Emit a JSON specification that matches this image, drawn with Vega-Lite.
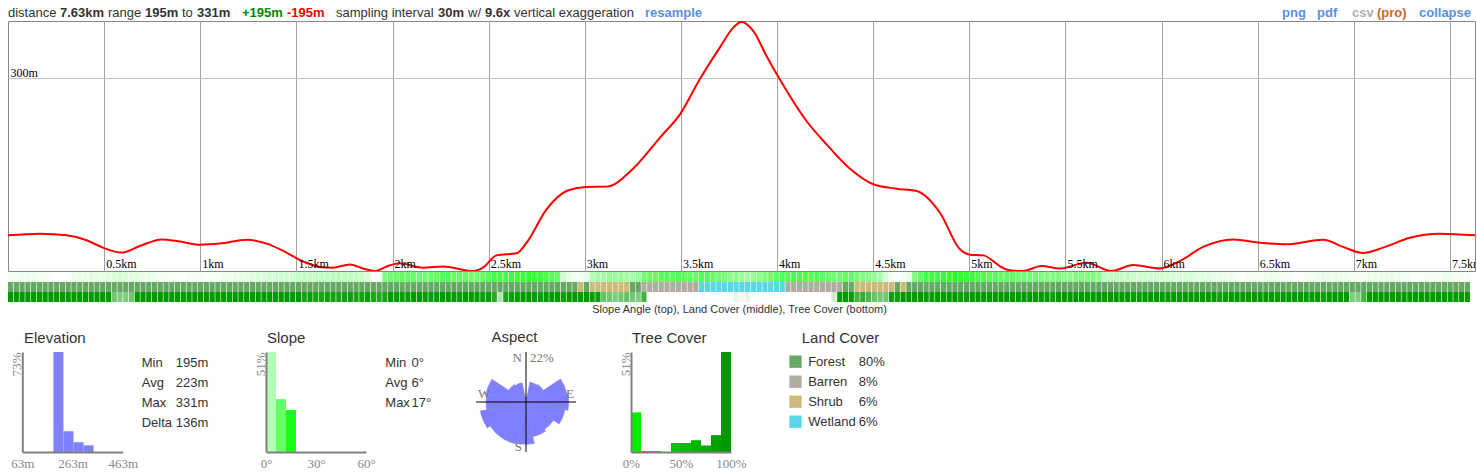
{
"$schema":"https://vega.github.io/schema/vega-lite/v6.json",
"background":"white",
"padding":{"left":7,"top":0,"right":0,"bottom":0},
"spacing":16,
"config":{
 "font":"Liberation Sans",
 "view":{"stroke":null},
 "title":{"anchor":"start","fontSize":15,"fontWeight":"normal","color":"#333333","offset":6,"baseline":"alphabetic","frame":"group","font":"Liberation Sans"},
 "style":{
  "hn":{"align":"left","baseline":"alphabetic","dy":7,"fontSize":13,"color":"#333333"},
  "hb":{"align":"left","baseline":"alphabetic","dy":7,"fontSize":13,"fontWeight":"bold","color":"#333333"},
  "st":{"align":"left","baseline":"middle","fontSize":13,"color":"#333333"}
 }
},
"vconcat":[
 {"spacing":0,"vconcat":[
  {"spacing":0,"bounds":"flush","hconcat":[
   {"width":52,"height":20,"data":{"values":[{"t":"distance"}]},"mark":{"type":"text","style":"hn"},"encoding":{"x":{"field":"t","type":"nominal","bandPosition":0,"axis":null,"scale":{"type":"band","paddingInner":0,"paddingOuter":0}},"text":{"field":"t"}}},
   {"width":47.7,"height":20,"data":{"values":[{"t":"7.63km"}]},"mark":{"type":"text","style":"hb"},"encoding":{"x":{"field":"t","type":"nominal","bandPosition":0,"axis":null,"scale":{"type":"band","paddingInner":0,"paddingOuter":0}},"text":{"field":"t"}}},
   {"width":36.9,"height":20,"data":{"values":[{"t":"range"}]},"mark":{"type":"text","style":"hn"},"encoding":{"x":{"field":"t","type":"nominal","bandPosition":0,"axis":null,"scale":{"type":"band","paddingInner":0,"paddingOuter":0}},"text":{"field":"t"}}},
   {"width":36.9,"height":20,"data":{"values":[{"t":"195m"}]},"mark":{"type":"text","style":"hb"},"encoding":{"x":{"field":"t","type":"nominal","bandPosition":0,"axis":null,"scale":{"type":"band","paddingInner":0,"paddingOuter":0}},"text":{"field":"t"}}},
   {"width":14.4,"height":20,"data":{"values":[{"t":"to"}]},"mark":{"type":"text","style":"hn"},"encoding":{"x":{"field":"t","type":"nominal","bandPosition":0,"axis":null,"scale":{"type":"band","paddingInner":0,"paddingOuter":0}},"text":{"field":"t"}}},
   {"width":44.1,"height":20,"data":{"values":[{"t":"331m"}]},"mark":{"type":"text","style":"hb"},"encoding":{"x":{"field":"t","type":"nominal","bandPosition":0,"axis":null,"scale":{"type":"band","paddingInner":0,"paddingOuter":0}},"text":{"field":"t"}}},
   {"width":44.5,"height":20,"data":{"values":[{"t":"+195m"}]},"mark":{"type":"text","style":"hb","color":"#008800"},"encoding":{"x":{"field":"t","type":"nominal","bandPosition":0,"axis":null,"scale":{"type":"band","paddingInner":0,"paddingOuter":0}},"text":{"field":"t"}}},
   {"width":48.4,"height":20,"data":{"values":[{"t":"-195m"}]},"mark":{"type":"text","style":"hb","color":"#ff0000"},"encoding":{"x":{"field":"t","type":"nominal","bandPosition":0,"axis":null,"scale":{"type":"band","paddingInner":0,"paddingOuter":0}},"text":{"field":"t"}}},
   {"width":101.2,"height":20,"data":{"values":[{"t":"sampling interval"}]},"mark":{"type":"text","style":"hn"},"encoding":{"x":{"field":"t","type":"nominal","bandPosition":0,"axis":null,"scale":{"type":"band","paddingInner":0,"paddingOuter":0}},"text":{"field":"t"}}},
   {"width":29.6,"height":20,"data":{"values":[{"t":"30m"}]},"mark":{"type":"text","style":"hb"},"encoding":{"x":{"field":"t","type":"nominal","bandPosition":0,"axis":null,"scale":{"type":"band","paddingInner":0,"paddingOuter":0}},"text":{"field":"t"}}},
   {"width":16.6,"height":20,"data":{"values":[{"t":"w/"}]},"mark":{"type":"text","style":"hn"},"encoding":{"x":{"field":"t","type":"nominal","bandPosition":0,"axis":null,"scale":{"type":"band","paddingInner":0,"paddingOuter":0}},"text":{"field":"t"}}},
   {"width":28.9,"height":20,"data":{"values":[{"t":"9.6x"}]},"mark":{"type":"text","style":"hb"},"encoding":{"x":{"field":"t","type":"nominal","bandPosition":0,"axis":null,"scale":{"type":"band","paddingInner":0,"paddingOuter":0}},"text":{"field":"t"}}},
   {"width":130.8,"height":20,"data":{"values":[{"t":"vertical exaggeration"}]},"mark":{"type":"text","style":"hn"},"encoding":{"x":{"field":"t","type":"nominal","bandPosition":0,"axis":null,"scale":{"type":"band","paddingInner":0,"paddingOuter":0}},"text":{"field":"t"}}},
   {"width":637,"height":20,"data":{"values":[{"t":"resample"}]},"mark":{"type":"text","style":"hb","color":"#5b8fe3"},"encoding":{"x":{"field":"t","type":"nominal","bandPosition":0,"axis":null,"scale":{"type":"band","paddingInner":0,"paddingOuter":0}},"text":{"field":"t"}}},
   {"width":35,"height":20,"data":{"values":[{"t":"png"}]},"mark":{"type":"text","style":"hb","color":"#5b8fe3"},"encoding":{"x":{"field":"t","type":"nominal","bandPosition":0,"axis":null,"scale":{"type":"band","paddingInner":0,"paddingOuter":0}},"text":{"field":"t"}}},
   {"width":35,"height":20,"data":{"values":[{"t":"pdf"}]},"mark":{"type":"text","style":"hb","color":"#5b8fe3"},"encoding":{"x":{"field":"t","type":"nominal","bandPosition":0,"axis":null,"scale":{"type":"band","paddingInner":0,"paddingOuter":0}},"text":{"field":"t"}}},
   {"width":25,"height":20,"data":{"values":[{"t":"csv"}]},"mark":{"type":"text","style":"hb","color":"#b0b0b0"},"encoding":{"x":{"field":"t","type":"nominal","bandPosition":0,"axis":null,"scale":{"type":"band","paddingInner":0,"paddingOuter":0}},"text":{"field":"t"}}},
   {"width":42,"height":20,"data":{"values":[{"t":"(pro)"}]},"mark":{"type":"text","style":"hb","color":"#d2642a"},"encoding":{"x":{"field":"t","type":"nominal","bandPosition":0,"axis":null,"scale":{"type":"band","paddingInner":0,"paddingOuter":0}},"text":{"field":"t"}}},
   {"width":55,"height":20,"data":{"values":[{"t":"collapse"}]},"mark":{"type":"text","style":"hb","color":"#5b8fe3"},"encoding":{"x":{"field":"t","type":"nominal","bandPosition":0,"axis":null,"scale":{"type":"band","paddingInner":0,"paddingOuter":0}},"text":{"field":"t"}}}
  ]},
  {"width":1467,"height":250,
   "view":{"stroke":"#888888","strokeWidth":1},
   "layer":[
    {"data":{"values":[{"d":0,"e":214.4},{"d":0.166,"e":215.3},{"d":0.305,"e":214.4},{"d":0.409,"e":211.7},{"d":0.494,"e":207.7},{"d":0.591,"e":205},{"d":0.686,"e":208.6},{"d":0.799,"e":212.2},{"d":0.894,"e":211},{"d":0.998,"e":209.3},{"d":1.102,"e":209.9},{"d":1.241,"e":212},{"d":1.345,"e":209.9},{"d":1.432,"e":205.9},{"d":1.518,"e":201},{"d":1.622,"e":197.2},{"d":1.69,"e":196.8},{"d":1.778,"e":198.6},{"d":1.846,"e":196.4},{"d":1.908,"e":195},{"d":1.986,"e":198.1},{"d":2.038,"e":199.2},{"d":2.158,"e":196.8},{"d":2.262,"e":197.5},{"d":2.418,"e":195},{"d":2.47,"e":196.8},{"d":2.541,"e":203.5},{"d":2.645,"e":204.6},{"d":2.697,"e":210.4},{"d":2.801,"e":228.5},{"d":2.905,"e":238.5},{"d":3.009,"e":240.7},{"d":3.113,"e":240.9},{"d":3.252,"e":250.7},{"d":3.391,"e":267.6},{"d":3.495,"e":280.2},{"d":3.598,"e":299.3},{"d":3.702,"e":316.5},{"d":3.772,"e":327.4},{"d":3.815,"e":330.5},{"d":3.876,"e":325.6},{"d":3.945,"e":312},{"d":4.014,"e":299.3},{"d":4.153,"e":276.6},{"d":4.257,"e":263.9},{"d":4.378,"e":250.7},{"d":4.5,"e":242.2},{"d":4.621,"e":239.8},{"d":4.725,"e":238.5},{"d":4.847,"e":226.7},{"d":4.951,"e":206.8},{"d":5.003,"e":203.9},{"d":5.072,"e":203.5},{"d":5.124,"e":200.4},{"d":5.16,"e":197.5},{"d":5.21,"e":195.4},{"d":5.28,"e":195},{"d":5.375,"e":197.7},{"d":5.471,"e":196.4},{"d":5.609,"e":199.5},{"d":5.739,"e":195},{"d":5.852,"e":198.3},{"d":5.991,"e":196.4},{"d":6.095,"e":200.4},{"d":6.216,"e":208.1},{"d":6.372,"e":212.2},{"d":6.511,"e":210.4},{"d":6.65,"e":209.5},{"d":6.84,"e":212},{"d":6.944,"e":208.1},{"d":7.048,"e":204.8},{"d":7.152,"e":207.7},{"d":7.291,"e":213.1},{"d":7.447,"e":215.3},{"d":7.63,"e":214.4}]},
     "mark":{"type":"line","color":"#ff0000","strokeWidth":2,"interpolate":"monotone","clip":true},
     "encoding":{
      "x":{"field":"d","type":"quantitative","scale":{"domain":[0,7.63],"nice":false,"zero":false},"axis":{"values":[0.5,1,1.5,2,2.5,3,3.5,4,4.5,5,5.5,6,6.5,7,7.5],"grid":true,"gridColor":"#a0a0a0","gridOpacity":1,"labels":false,"ticks":false,"domain":false,"title":null}},
      "y":{"field":"e","type":"quantitative","scale":{"domain":[195,331],"nice":false,"zero":false},"axis":{"values":[300],"grid":true,"gridColor":"#c4c4c4","gridOpacity":1,"ticks":false,"tickSize":0,"domain":false,"title":null,"labelExpr":"datum.value + 'm'","labelAlign":"left","labelBaseline":"alphabetic","labelPadding":-2,"labelOffset":-1,"labelFont":"Liberation Serif","labelFontSize":12,"labelColor":"#000000"}}
     }},
    {"data":{"values":[{"d":0.5,"lab":"0.5km"},{"d":1,"lab":"1km"},{"d":1.5,"lab":"1.5km"},{"d":2,"lab":"2km"},{"d":2.5,"lab":"2.5km"},{"d":3,"lab":"3km"},{"d":3.5,"lab":"3.5km"},{"d":4,"lab":"4km"},{"d":4.5,"lab":"4.5km"},{"d":5,"lab":"5km"},{"d":5.5,"lab":"5.5km"},{"d":6,"lab":"6km"},{"d":6.5,"lab":"6.5km"},{"d":7,"lab":"7km"},{"d":7.5,"lab":"7.5km"}]},
     "mark":{"type":"text","align":"left","baseline":"alphabetic","dx":2,"dy":-3,"font":"Liberation Serif","fontSize":12,"color":"#000000","clip":true},
     "encoding":{"x":{"field":"d","type":"quantitative"},"y":{"datum":195},"text":{"field":"lab"}}}
   ]},
  {"width":1462,"height":30,
   "data":{"values":[
{"i":0,"s":1,"l":"Forest","t":100},{"i":1,"s":1,"l":"Forest","t":100},{"i":2,"s":1.5,"l":"Forest","t":100},{"i":3,"s":1.5,"l":"Forest","t":100},{"i":4,"s":1.5,"l":"Forest","t":100},{"i":5,"s":1,"l":"Forest","t":100},{"i":6,"s":1,"l":"Forest","t":100},{"i":7,"s":0.5,"l":"Forest","t":100},{"i":8,"s":0,"l":"Forest","t":100},{"i":9,"s":0,"l":"Forest","t":100},
{"i":10,"s":0.5,"l":"Forest","t":100},{"i":11,"s":1.5,"l":"Forest","t":100},{"i":12,"s":2,"l":"Forest","t":100},{"i":13,"s":2,"l":"Forest","t":100},{"i":14,"s":2.5,"l":"Forest","t":100},{"i":15,"s":2,"l":"Forest","t":100},{"i":16,"s":2,"l":"Forest","t":100},{"i":17,"s":2.5,"l":"Forest","t":100},{"i":18,"s":3,"l":"Forest","t":55},{"i":19,"s":3,"l":"Forest","t":50},
{"i":20,"s":3,"l":"Forest","t":50},{"i":21,"s":2.5,"l":"Forest","t":55},{"i":22,"s":2.5,"l":"Forest","t":100},{"i":23,"s":2,"l":"Forest","t":100},{"i":24,"s":2,"l":"Forest","t":100},{"i":25,"s":1.5,"l":"Forest","t":100},{"i":26,"s":1,"l":"Forest","t":100},{"i":27,"s":1,"l":"Forest","t":100},{"i":28,"s":1,"l":"Forest","t":100},{"i":29,"s":0.5,"l":"Forest","t":100},
{"i":30,"s":0.5,"l":"Forest","t":100},{"i":31,"s":1,"l":"Forest","t":100},{"i":32,"s":1,"l":"Forest","t":100},{"i":33,"s":1,"l":"Forest","t":100},{"i":34,"s":0.5,"l":"Forest","t":100},{"i":35,"s":1,"l":"Forest","t":100},{"i":36,"s":1,"l":"Forest","t":100},{"i":37,"s":1.5,"l":"Forest","t":100},{"i":38,"s":1.5,"l":"Forest","t":100},{"i":39,"s":2,"l":"Forest","t":100},
{"i":40,"s":2,"l":"Forest","t":100},{"i":41,"s":2,"l":"Forest","t":100},{"i":42,"s":2.5,"l":"Forest","t":100},{"i":43,"s":3,"l":"Forest","t":100},{"i":44,"s":3,"l":"Forest","t":100},{"i":45,"s":3.5,"l":"Forest","t":100},{"i":46,"s":3.5,"l":"Forest","t":100},{"i":47,"s":4,"l":"Forest","t":100},{"i":48,"s":4,"l":"Forest","t":100},{"i":49,"s":4,"l":"Forest","t":100},
{"i":50,"s":4.5,"l":"Forest","t":100},{"i":51,"s":4.5,"l":"Forest","t":92},{"i":52,"s":4.5,"l":"Forest","t":95},{"i":53,"s":5,"l":"Forest","t":92},{"i":54,"s":5,"l":"Forest","t":90},{"i":55,"s":5,"l":"Forest","t":95},{"i":56,"s":5.5,"l":"Forest","t":92},{"i":57,"s":5.5,"l":"Forest","t":90},{"i":58,"s":5,"l":"Forest","t":92},{"i":59,"s":5,"l":"Forest","t":95},
{"i":60,"s":4.5,"l":"Forest","t":90},{"i":61,"s":4,"l":"Forest","t":92},{"i":62,"s":3,"l":"Forest","t":95},{"i":63,"s":0.5,"l":"Forest","t":88},{"i":64,"s":1,"l":"Forest","t":85},{"i":65,"s":10,"l":"Forest","t":90},{"i":66,"s":11,"l":"Forest","t":100},{"i":67,"s":11,"l":"Forest","t":97},{"i":68,"s":12,"l":"Forest","t":95},{"i":69,"s":12,"l":"Forest","t":97},
{"i":70,"s":12,"l":"Forest","t":100},{"i":71,"s":11,"l":"Forest","t":100},{"i":72,"s":11,"l":"Forest","t":97},{"i":73,"s":12,"l":"Forest","t":95},{"i":74,"s":12,"l":"Forest","t":97},{"i":75,"s":13,"l":"Forest","t":100},{"i":76,"s":13,"l":"Forest","t":100},{"i":77,"s":12,"l":"Forest","t":97},{"i":78,"s":12,"l":"Forest","t":97},{"i":79,"s":12,"l":"Forest","t":100},
{"i":80,"s":11,"l":"Forest","t":100},{"i":81,"s":11,"l":"Forest","t":97},{"i":82,"s":12,"l":"Forest","t":95},{"i":83,"s":13,"l":"Forest","t":97},{"i":84,"s":14,"l":"Forest","t":85},{"i":85,"s":14,"l":"Forest","t":30},{"i":86,"s":14,"l":"Forest","t":90},{"i":87,"s":15,"l":"Forest","t":95},{"i":88,"s":15,"l":"Forest","t":97},{"i":89,"s":15,"l":"Forest","t":100},
{"i":90,"s":16,"l":"Forest","t":100},{"i":91,"s":15,"l":"Forest","t":97},{"i":92,"s":15,"l":"Forest","t":95},{"i":93,"s":14,"l":"Forest","t":100},{"i":94,"s":13,"l":"Forest","t":100},{"i":95,"s":12,"l":"Forest","t":100},{"i":96,"s":4,"l":"Forest","t":95},{"i":97,"s":2,"l":"Forest","t":100},{"i":98,"s":1,"l":"Forest","t":100},{"i":99,"s":1,"l":"Shrub","t":100},
{"i":100,"s":2,"l":"Forest","t":100},{"i":101,"s":6,"l":"Shrub","t":97},{"i":102,"s":7,"l":"Shrub","t":95},{"i":103,"s":7,"l":"Shrub","t":60},{"i":104,"s":8,"l":"Shrub","t":55},{"i":105,"s":8,"l":"Shrub","t":50},{"i":106,"s":8,"l":"Shrub","t":55},{"i":107,"s":7,"l":"Shrub","t":60},{"i":108,"s":7,"l":"Forest","t":55},{"i":109,"s":8,"l":"Forest","t":50},
{"i":110,"s":11,"l":"Barren","t":75},{"i":111,"s":12,"l":"Barren","t":0},{"i":112,"s":12,"l":"Barren","t":0},{"i":113,"s":13,"l":"Barren","t":0},{"i":114,"s":13,"l":"Barren","t":0},{"i":115,"s":13,"l":"Barren","t":0},{"i":116,"s":13,"l":"Barren","t":0},{"i":117,"s":12,"l":"Barren","t":0},{"i":118,"s":12,"l":"Barren","t":0},{"i":119,"s":12,"l":"Barren","t":0},
{"i":120,"s":13,"l":"Wetland","t":0},{"i":121,"s":13,"l":"Wetland","t":0},{"i":122,"s":12,"l":"Wetland","t":0},{"i":123,"s":11,"l":"Wetland","t":0},{"i":124,"s":10,"l":"Wetland","t":0},{"i":125,"s":9,"l":"Wetland","t":0},{"i":126,"s":9,"l":"Wetland","t":8},{"i":127,"s":8,"l":"Wetland","t":5},{"i":128,"s":7,"l":"Wetland","t":8},{"i":129,"s":8,"l":"Wetland","t":0},
{"i":130,"s":9,"l":"Wetland","t":0},{"i":131,"s":10,"l":"Wetland","t":0},{"i":132,"s":11,"l":"Wetland","t":0},{"i":133,"s":12,"l":"Wetland","t":0},{"i":134,"s":13,"l":"Wetland","t":0},{"i":135,"s":13,"l":"Barren","t":0},{"i":136,"s":14,"l":"Barren","t":0},{"i":137,"s":14,"l":"Barren","t":0},{"i":138,"s":14,"l":"Barren","t":0},{"i":139,"s":13,"l":"Barren","t":0},
{"i":140,"s":13,"l":"Barren","t":0},{"i":141,"s":12,"l":"Barren","t":0},{"i":142,"s":12,"l":"Barren","t":0},{"i":143,"s":11,"l":"Barren","t":18},{"i":144,"s":11,"l":"Barren","t":100},{"i":145,"s":12,"l":"Forest","t":100},{"i":146,"s":12,"l":"Forest","t":100},{"i":147,"s":11,"l":"Shrub","t":75},{"i":148,"s":10,"l":"Shrub","t":80},{"i":149,"s":9,"l":"Shrub","t":70},
{"i":150,"s":8,"l":"Shrub","t":60},{"i":151,"s":7,"l":"Shrub","t":55},{"i":152,"s":3,"l":"Shrub","t":55},{"i":153,"s":1,"l":"Shrub","t":95},{"i":154,"s":0.5,"l":"Forest","t":95},{"i":155,"s":1,"l":"Shrub","t":100},{"i":156,"s":2,"l":"Forest","t":100},{"i":157,"s":10,"l":"Forest","t":100},{"i":158,"s":12,"l":"Forest","t":100},{"i":159,"s":14,"l":"Forest","t":97},
{"i":160,"s":15,"l":"Forest","t":97},{"i":161,"s":15,"l":"Forest","t":100},{"i":162,"s":16,"l":"Forest","t":100},{"i":163,"s":16,"l":"Forest","t":100},{"i":164,"s":17,"l":"Forest","t":100},{"i":165,"s":16,"l":"Forest","t":95},{"i":166,"s":15,"l":"Forest","t":95},{"i":167,"s":15,"l":"Forest","t":100},{"i":168,"s":14,"l":"Forest","t":100},{"i":169,"s":14,"l":"Forest","t":100},
{"i":170,"s":13,"l":"Forest","t":100},{"i":171,"s":13,"l":"Forest","t":100},{"i":172,"s":12,"l":"Forest","t":100},{"i":173,"s":12,"l":"Forest","t":100},{"i":174,"s":12,"l":"Forest","t":100},{"i":175,"s":11,"l":"Forest","t":100},{"i":176,"s":11,"l":"Forest","t":100},{"i":177,"s":11,"l":"Forest","t":100},{"i":178,"s":11,"l":"Forest","t":100},{"i":179,"s":10,"l":"Forest","t":100},
{"i":180,"s":10,"l":"Forest","t":97},{"i":181,"s":10,"l":"Forest","t":95},{"i":182,"s":10,"l":"Forest","t":100},{"i":183,"s":9,"l":"Forest","t":100},{"i":184,"s":9,"l":"Forest","t":100},{"i":185,"s":10,"l":"Forest","t":100},{"i":186,"s":10,"l":"Forest","t":100},{"i":187,"s":10,"l":"Forest","t":100},{"i":188,"s":10,"l":"Forest","t":100},{"i":189,"s":9,"l":"Forest","t":100},
{"i":190,"s":5,"l":"Forest","t":100},{"i":191,"s":5,"l":"Forest","t":100},{"i":192,"s":5,"l":"Forest","t":100},{"i":193,"s":4.5,"l":"Forest","t":100},{"i":194,"s":4.5,"l":"Forest","t":100},{"i":195,"s":4,"l":"Forest","t":97},{"i":196,"s":4,"l":"Forest","t":97},{"i":197,"s":4,"l":"Forest","t":100},{"i":198,"s":4,"l":"Forest","t":100},{"i":199,"s":3.5,"l":"Forest","t":100},
{"i":200,"s":3.5,"l":"Forest","t":100},{"i":201,"s":3.5,"l":"Forest","t":100},{"i":202,"s":3,"l":"Forest","t":100},{"i":203,"s":3,"l":"Forest","t":100},{"i":204,"s":3,"l":"Forest","t":100},{"i":205,"s":3,"l":"Forest","t":100},{"i":206,"s":2.5,"l":"Forest","t":100},{"i":207,"s":2.5,"l":"Forest","t":100},{"i":208,"s":2.5,"l":"Forest","t":100},{"i":209,"s":2,"l":"Forest","t":100},
{"i":210,"s":2,"l":"Forest","t":95},{"i":211,"s":1.5,"l":"Forest","t":97},{"i":212,"s":1.5,"l":"Forest","t":100},{"i":213,"s":1,"l":"Forest","t":100},{"i":214,"s":0.5,"l":"Forest","t":100},{"i":215,"s":1,"l":"Forest","t":100},{"i":216,"s":1,"l":"Forest","t":100},{"i":217,"s":1,"l":"Forest","t":100},{"i":218,"s":1.5,"l":"Forest","t":100},{"i":219,"s":1.5,"l":"Forest","t":100},
{"i":220,"s":1.5,"l":"Forest","t":97},{"i":221,"s":1,"l":"Forest","t":100},{"i":222,"s":1,"l":"Forest","t":100},{"i":223,"s":0.5,"l":"Forest","t":100},{"i":224,"s":0.5,"l":"Forest","t":100},{"i":225,"s":1,"l":"Forest","t":100},{"i":226,"s":1,"l":"Forest","t":100},{"i":227,"s":1.5,"l":"Forest","t":100},{"i":228,"s":2,"l":"Forest","t":95},{"i":229,"s":2,"l":"Forest","t":100},
{"i":230,"s":2,"l":"Forest","t":100},{"i":231,"s":1.5,"l":"Forest","t":100},{"i":232,"s":1.5,"l":"Forest","t":100},{"i":233,"s":1,"l":"Forest","t":50},{"i":234,"s":1,"l":"Forest","t":50},{"i":235,"s":1,"l":"Forest","t":75},{"i":236,"s":1.5,"l":"Forest","t":100},{"i":237,"s":1.5,"l":"Forest","t":100},{"i":238,"s":1.5,"l":"Forest","t":100},{"i":239,"s":2,"l":"Forest","t":100},
{"i":240,"s":2,"l":"Forest","t":100},{"i":241,"s":1.5,"l":"Forest","t":100},{"i":242,"s":1,"l":"Forest","t":100},{"i":243,"s":1,"l":"Forest","t":100},{"i":244,"s":0.5,"l":"Forest","t":100},{"i":245,"s":0.5,"l":"Forest","t":100},{"i":246,"s":1,"l":"Forest","t":100},{"i":247,"s":1,"l":"Forest","t":100},{"i":248,"s":1,"l":"Forest","t":100},{"i":249,"s":1.5,"l":"Forest","t":100},
{"i":250,"s":1.5,"l":"Forest","t":100},{"i":251,"s":1,"l":"Forest","t":100},{"i":252,"s":1,"l":"Forest","t":100},{"i":253,"s":1,"l":"Forest","t":100}
   ]},
   "encoding":{"x":{"field":"i","type":"ordinal","scale":{"paddingInner":0.1,"paddingOuter":0},"axis":{"labels":false,"ticks":false,"domain":false,"grid":false,"title":"Slope Angle (top), Land Cover (middle), Tree Cover (bottom)","titleFont":"Liberation Sans","titleFontSize":11,"titleFontWeight":"normal","titleColor":"#333333","titlePadding":1}}},
   "layer":[
    {"mark":{"type":"bar"},"encoding":{"y":{"datum":"s","type":"nominal","scale":{"domain":["s","l","t"],"paddingInner":0,"paddingOuter":0},"axis":null},"color":{"field":"s","type":"quantitative","scale":{"domain":[0,20],"range":["#ffffff","#00ff00"],"interpolate":"rgb"},"legend":null}}},
    {"mark":{"type":"bar"},"encoding":{"y":{"datum":"l","type":"nominal","axis":null},"color":{"field":"l","type":"nominal","scale":{"domain":["Forest","Barren","Shrub","Wetland"],"range":["#68a867","#b1aca2","#cdb97b","#59d6e8"]},"legend":null}}},
    {"mark":{"type":"bar"},"encoding":{"y":{"datum":"t","type":"nominal","axis":null},"color":{"field":"t","type":"quantitative","scale":{"domain":[0,100],"range":["#ffffff","#009900"],"interpolate":"rgb"},"legend":null}}}
   ],
   "resolve":{"scale":{"color":"independent"}}
  }
 ]},
 {"spacing":0,"bounds":"flush","hconcat":[
  {"width":132,"height":100,"title":{"text":"Elevation","dx":16},
   "data":{"values":[{"b0":187,"b1":227,"p":73},{"b0":227,"b1":267,"p":15.2},{"b0":267,"b1":307,"p":7.1},{"b0":307,"b1":347,"p":4.9}]},
   "mark":{"type":"rect","color":"#8080ff"},
   "encoding":{
    "x":{"field":"b0","type":"quantitative","scale":{"domain":[63,463],"range":[14.3,114.7],"nice":false,"zero":false},"axis":{"values":[63,263,463],"labelExpr":"datum.value + 'm'","title":null,"grid":false,"ticks":false,"tickSize":0,"domainColor":"#808080","domainWidth":2,"labelFont":"Liberation Serif","labelFontSize":13,"labelColor":"#888888","labelPadding":5,"labelFlush":false,"labelOverlap":false,"zindex":1}},
    "x2":{"field":"b1"},
    "y":{"field":"p","type":"quantitative","scale":{"domain":[0,73],"nice":false},"axis":{"labels":false,"ticks":false,"grid":false,"title":"73%","titleAnchor":"end","titleFont":"Liberation Serif","titleFontSize":13,"titleFontWeight":"normal","titleColor":"#888888","titlePadding":-1,"domainColor":"#808080","domainWidth":2,"offset":-14.3,"zindex":1}},
    "y2":{"datum":0}
   }},
  {"width":125.7,"height":100,
   "data":{"values":[{"k":"Min","v":"195m"},{"k":"Avg","v":"223m"},{"k":"Max","v":"331m"},{"k":"Delta","v":"136m"}]},
   "encoding":{"y":{"field":"k","type":"nominal","scale":{"type":"point","domain":["Min","Avg","Max","Delta"],"range":[10.7,70.7],"padding":0},"axis":null}},
   "layer":[
    {"mark":{"type":"text","style":"st"},"encoding":{"x":{"datum":"k","type":"nominal","scale":{"type":"point","domain":["k","v"],"range":[1.7,35.7],"padding":0},"axis":null},"text":{"field":"k"}}},
    {"mark":{"type":"text","style":"st"},"encoding":{"x":{"datum":"v","type":"nominal","axis":null},"text":{"field":"v"}}}
   ]},
  {"width":116.3,"height":100,"title":{"text":"Slope","dx":1},
   "data":{"values":[{"b0":0,"b1":6,"p":51},{"b0":6,"b1":12,"p":27},{"b0":12,"b1":18,"p":21.4}]},
   "mark":{"type":"rect"},
   "encoding":{
    "x":{"field":"b0","type":"quantitative","scale":{"domain":[0,60],"range":[0,100],"nice":false,"zero":false},"axis":{"values":[0,30,60],"labelExpr":"datum.value + '°'","title":null,"grid":false,"ticks":false,"tickSize":0,"domainColor":"#808080","domainWidth":2,"labelFont":"Liberation Serif","labelFontSize":13,"labelColor":"#888888","labelPadding":5,"labelFlush":false,"labelOverlap":false,"zindex":1}},
    "x2":{"field":"b1"},
    "y":{"field":"p","type":"quantitative","scale":{"domain":[0,51],"nice":false},"axis":{"labels":false,"ticks":false,"grid":false,"title":"51%","titleAnchor":"end","titleFont":"Liberation Serif","titleFontSize":13,"titleFontWeight":"normal","titleColor":"#888888","titlePadding":-1,"domainColor":"#808080","domainWidth":2,"zindex":1}},
    "y2":{"datum":0},
    "color":{"field":"b1","type":"quantitative","scale":{"domain":[0,20],"range":["#ffffff","#00ff00"],"interpolate":"rgb"},"legend":null}
   }},
  {"width":93,"height":100,
   "data":{"values":[{"k":"Min","v":"0°"},{"k":"Avg","v":"6°"},{"k":"Max","v":"17°"}]},
   "encoding":{"y":{"field":"k","type":"nominal","scale":{"type":"point","domain":["Min","Avg","Max"],"range":[10.7,50.7],"padding":0},"axis":null}},
   "layer":[
    {"mark":{"type":"text","style":"st"},"encoding":{"x":{"datum":"k","type":"nominal","scale":{"type":"point","domain":["k","v"],"range":[2.3,28.5],"padding":0},"axis":null},"text":{"field":"k"}}},
    {"mark":{"type":"text","style":"st"},"encoding":{"x":{"datum":"v","type":"nominal","axis":null},"text":{"field":"v"}}}
   ]},
  {"width":100,"height":100,"title":{"text":"Aspect","dx":15.5},
   "layer":[
    {"data":{"values":[{"dir":"N","a0":-11.25,"a1":11.25,"p":2.2},{"dir":"NNE","a0":11.25,"a1":33.75,"p":8.9},{"dir":"NE","a0":33.75,"a1":56.25,"p":9.2},{"dir":"ENE","a0":56.25,"a1":78.75,"p":18.3},{"dir":"E","a0":78.75,"a1":101.25,"p":18.8},{"dir":"ESE","a0":101.25,"a1":123.75,"p":17.5},{"dir":"SE","a0":123.75,"a1":146.25,"p":14.5},{"dir":"SSE","a0":146.25,"a1":168.75,"p":15.5},{"dir":"S","a0":168.75,"a1":191.25,"p":18.6},{"dir":"SSW","a0":191.25,"a1":213.75,"p":19},{"dir":"SW","a0":213.75,"a1":236.25,"p":19},{"dir":"WSW","a0":236.25,"a1":258.75,"p":20.5},{"dir":"W","a0":258.75,"a1":281.25,"p":17.6},{"dir":"WNW","a0":281.25,"a1":303.75,"p":18},{"dir":"NW","a0":303.75,"a1":326.25,"p":9.2},{"dir":"NNW","a0":326.25,"a1":348.75,"p":8.6}]},
     "mark":{"type":"arc","color":"#8080ff","stroke":"#8080ff","strokeWidth":0.6,"opacity":1},
     "encoding":{"theta":{"field":"a0","type":"quantitative","stack":null,"scale":{"domain":[0,360],"range":[0,6.283185307179586]}},"theta2":{"field":"a1"},"radius":{"field":"p","type":"quantitative","scale":{"type":"linear","domain":[0,22],"range":[0,50],"zero":true}}}},
    {"data":{"values":[{}]},"mark":{"type":"rule","color":"#000000","opacity":0.5,"strokeWidth":2},"encoding":{"x":{"datum":-22,"type":"quantitative","scale":{"domain":[-22,22],"nice":false,"zero":false},"axis":null},"x2":{"datum":22},"y":{"datum":0,"type":"quantitative","scale":{"domain":[-22,22],"nice":false,"zero":false},"axis":null}}},
    {"data":{"values":[{}]},"mark":{"type":"rule","color":"#000000","opacity":0.5,"strokeWidth":2},"encoding":{"x":{"datum":0,"type":"quantitative","axis":null},"y":{"datum":-22,"type":"quantitative","axis":null},"y2":{"datum":22}}},
    {"data":{"values":[{}]},"mark":{"type":"text","text":"N","align":"right","baseline":"top","dx":-4,"dy":0,"font":"Liberation Serif","fontSize":13,"color":"#777777"},"encoding":{"x":{"datum":0,"type":"quantitative","axis":null},"y":{"datum":22,"type":"quantitative","axis":null}}},
    {"data":{"values":[{}]},"mark":{"type":"text","text":"22%","align":"left","baseline":"top","dx":4,"dy":0,"font":"Liberation Serif","fontSize":13,"color":"#777777"},"encoding":{"x":{"datum":0,"type":"quantitative","axis":null},"y":{"datum":22,"type":"quantitative","axis":null}}},
    {"data":{"values":[{}]},"mark":{"type":"text","text":"W","align":"left","baseline":"alphabetic","dx":2,"dy":-4,"font":"Liberation Serif","fontSize":13,"color":"#777777"},"encoding":{"x":{"datum":-22,"type":"quantitative","axis":null},"y":{"datum":0,"type":"quantitative","axis":null}}},
    {"data":{"values":[{}]},"mark":{"type":"text","text":"E","align":"right","baseline":"alphabetic","dx":-2,"dy":-4,"font":"Liberation Serif","fontSize":13,"color":"#777777"},"encoding":{"x":{"datum":22,"type":"quantitative","axis":null},"y":{"datum":0,"type":"quantitative","axis":null}}},
    {"data":{"values":[{}]},"mark":{"type":"text","text":"S","align":"right","baseline":"alphabetic","dx":-4,"dy":-1,"font":"Liberation Serif","fontSize":13,"color":"#777777"},"encoding":{"x":{"datum":0,"type":"quantitative","axis":null},"y":{"datum":-22,"type":"quantitative","axis":null}}}
   ]},
  {"width":205,"height":100,"title":{"text":"Tree Cover","dx":56},
   "data":{"values":[{"b0":0,"b1":10,"p":20.2},{"b0":10,"b1":20,"p":0.5},{"b0":20,"b1":30,"p":0.5},{"b0":30,"b1":40,"p":0},{"b0":40,"b1":50,"p":4.6},{"b0":50,"b1":60,"p":4.6},{"b0":60,"b1":70,"p":6},{"b0":70,"b1":80,"p":3.3},{"b0":80,"b1":90,"p":8.6},{"b0":90,"b1":100,"p":51}]},
   "mark":{"type":"rect"},
   "encoding":{
    "x":{"field":"b0","type":"quantitative","scale":{"domain":[0,100],"range":[55,155],"nice":false,"zero":false},"axis":{"values":[0,50,100],"labelExpr":"datum.value + '%'","title":null,"grid":false,"ticks":false,"tickSize":0,"domainColor":"#808080","domainWidth":2,"labelFont":"Liberation Serif","labelFontSize":13,"labelColor":"#888888","labelPadding":5,"labelFlush":false,"labelOverlap":false,"zindex":1}},
    "x2":{"field":"b1"},
    "y":{"field":"p","type":"quantitative","scale":{"domain":[0,51],"nice":false},"axis":{"labels":false,"ticks":false,"grid":false,"title":"51%","titleAnchor":"end","titleFont":"Liberation Serif","titleFontSize":13,"titleFontWeight":"normal","titleColor":"#888888","titlePadding":-1,"domainColor":"#808080","domainWidth":2,"offset":-55,"zindex":1}},
    "y2":{"datum":0},
    "color":{"field":"b0","type":"quantitative","scale":{"domain":[0,90],"range":["#00ee00","#009900"],"interpolate":"rgb"},"legend":null}
   }},
  {"width":120,"height":100,"title":{"text":"Land Cover","dx":20.7},
   "data":{"values":[{"c":"Forest","p":"80%"},{"c":"Barren","p":"8%"},{"c":"Shrub","p":"6%"},{"c":"Wetland","p":"6%"}]},
   "encoding":{"y":{"field":"c","type":"nominal","scale":{"type":"point","domain":["Forest","Barren","Shrub","Wetland"],"range":[9.7,69.7],"padding":0},"axis":null}},
   "layer":[
    {"mark":{"type":"square","size":152,"opacity":1,"filled":true},"encoding":{"x":{"datum":"swatch","type":"nominal","scale":{"type":"point","domain":["swatch","label","g1","g2","g3","pct"],"range":[14.5,77.75],"padding":0},"axis":null},"color":{"field":"c","type":"nominal","scale":{"domain":["Forest","Barren","Shrub","Wetland"],"range":["#68a867","#b1aca2","#cdb97b","#59d6e8"]},"legend":null}}},
    {"mark":{"type":"text","style":"st"},"encoding":{"x":{"datum":"label","type":"nominal","axis":null},"text":{"field":"c"}}},
    {"mark":{"type":"text","style":"st"},"encoding":{"x":{"datum":"pct","type":"nominal","axis":null},"text":{"field":"p"}}}
   ]}
 ]}
]
}
